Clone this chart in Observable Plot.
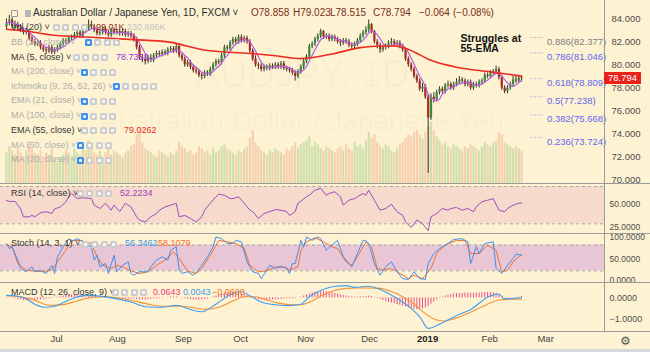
<!DOCTYPE html>
<html><head><meta charset="utf-8">
<script src="https://cdn.jsdelivr.net/npm/d3@7"></script>
<script src="https://cdn.jsdelivr.net/npm/@observablehq/plot@0.6"></script>
<style>
html,body{margin:0;padding:0;background:#fdf3d3;}
#chart{position:relative;width:650px;height:352px;overflow:hidden;background:#fdf3d3;font-family:"Liberation Sans",Arial,sans-serif;}
.p{position:absolute;left:0;}
.p svg{display:block;overflow:visible;}
.t{position:absolute;white-space:nowrap;line-height:1.2;}
.ic{position:absolute;width:7px;height:7px;border-radius:1.5px;}
.ic::after{content:"";position:absolute;left:2px;top:2px;width:3px;height:3px;background:rgba(255,255,255,0.9);border-radius:1px;}
.hl{position:absolute;left:0;width:650px;height:1px;background:#9b9b9b;}
</style></head>
<body><div id="chart"></div>
<script>
// ---------------- data ----------------
const closes = [83.6,83.9,83.3,83.5,83.2,83.0,82.8,82.9,82.3,82.0,
81.8,81.9,81.5,81.3,81.2,81.5,81.1,81.3,81.5,81.8,
82.1,82.0,82.3,82.4,82.6,82.8,82.5,83.2,83.1,83.5,
83.3,83.0,82.7,82.8,83.1,82.8,82.6,83.0,82.8,82.9,
82.7,82.9,82.6,82.7,82.5,82.2,81.5,80.6,80.5,80.3,
80.6,80.4,80.8,81.0,80.9,81.1,81.0,81.3,81.4,81.2,
81.6,80.8,80.5,80.0,80.2,79.8,79.5,79.4,79.1,79.0,
79.3,79.2,79.6,80.0,80.3,80.2,80.8,81.5,81.4,81.9,
82.2,82.0,82.4,82.1,82.3,82.0,81.2,80.5,80.0,79.9,
79.6,79.8,79.7,79.9,79.8,80.0,79.8,80.1,79.7,79.6,
79.5,79.3,79.0,79.4,79.8,80.3,80.7,81.6,81.8,82.2,
82.5,82.9,82.4,82.5,82.2,82.4,82.2,82.0,81.9,82.1,
82.0,81.7,81.6,81.8,82.1,82.5,82.8,83.0,83.5,82.9,
82.0,81.7,81.3,81.5,81.6,81.9,82.0,81.8,81.9,81.6,
81.3,80.5,80.0,79.6,79.0,78.6,77.9,78.1,77.2,75.4,
77.2,77.0,77.6,77.9,77.7,78.2,78.3,78.0,78.3,78.5,
78.7,78.6,78.3,78.5,78.0,78.3,78.2,78.5,78.6,79.1,
79.0,79.3,79.4,79.6,78.9,78.0,77.7,78.0,78.3,78.7,
78.6,78.86,78.794];
const opens = [83.3,83.6,83.9,83.3,83.5,83.2,83.0,82.8,82.9,82.3,
82.0,81.8,81.9,81.5,81.3,81.2,81.5,81.1,81.3,81.5,
81.8,82.1,82.0,82.3,82.4,82.6,82.8,82.5,83.2,83.1,
83.5,83.3,83.0,82.7,82.8,83.1,82.8,82.6,83.0,82.8,
82.9,82.7,82.9,82.6,82.7,82.5,82.2,81.5,80.6,80.5,
80.3,80.6,80.4,80.8,81.0,80.9,81.1,81.0,81.3,81.4,
81.2,81.6,80.8,80.5,80.0,80.2,79.8,79.5,79.4,79.1,
79.0,79.3,79.2,79.6,80.0,80.3,80.2,80.8,81.5,81.4,
81.9,82.2,82.0,82.4,82.1,82.3,82.0,81.2,80.5,80.0,
79.9,79.6,79.8,79.7,79.9,79.8,80.0,79.8,80.1,79.7,
79.6,79.5,79.3,79.0,79.4,79.8,80.3,80.7,81.6,81.8,
82.2,82.5,82.9,82.4,82.5,82.2,82.4,82.2,82.0,81.9,
82.1,82.0,81.7,81.6,81.8,82.1,82.5,82.8,83.0,83.5,
82.9,82.0,81.7,81.3,81.5,81.6,81.9,82.0,81.8,81.9,
81.6,81.3,80.5,80.0,79.6,79.0,78.6,77.9,78.1,77.2,
75.4,77.2,77.0,77.6,77.9,77.7,78.2,78.3,78.0,78.3,
78.5,78.7,78.6,78.3,78.5,78.0,78.3,78.2,78.5,78.6,
79.1,79.0,79.3,79.4,79.6,78.9,78.0,77.7,78.0,78.3,
78.7,78.6,78.858];
const highs = [84.0,84.3,84.1,83.8,83.7,83.5,83.2,83.2,83.1,82.5,
82.2,82.1,82.1,81.7,81.5,81.7,81.7,81.5,81.7,82.0,
82.3,82.3,82.5,82.6,82.8,83.0,83.0,83.4,83.4,83.9,
83.8,83.5,83.2,83.0,83.3,83.3,83.0,83.2,83.2,83.1,
83.1,83.1,83.1,82.9,82.9,82.7,82.4,81.7,80.9,80.8,
80.8,80.9,81.0,81.2,81.2,81.3,81.3,81.5,81.6,81.6,
81.8,81.7,81.0,80.7,80.4,80.4,80.0,79.8,79.6,79.3,
79.5,79.5,79.8,80.2,80.5,80.5,81.0,81.7,81.7,82.1,
82.4,82.4,82.6,82.6,82.5,82.5,82.2,81.4,80.8,80.2,
80.1,80.0,80.0,80.1,80.1,80.2,80.2,80.3,80.3,79.9,
79.8,79.7,79.5,79.6,80.0,80.5,80.9,81.8,82.0,82.4,
82.7,83.1,83.0,82.7,82.7,82.6,82.6,82.4,82.2,82.3,
82.3,82.2,81.9,82.0,82.3,82.7,83.0,83.3,83.9,83.6,
83.0,82.2,81.9,81.7,81.8,82.1,82.3,82.2,82.1,82.1,
81.8,81.5,80.7,80.2,79.8,79.2,78.8,78.4,78.3,77.4,
77.5,77.6,77.8,78.1,78.1,78.4,78.6,78.5,78.5,78.8,
79.0,78.9,78.8,78.7,78.7,78.5,78.5,78.7,78.8,79.3,
79.3,79.5,79.6,79.9,79.8,79.1,78.2,78.2,78.5,79.0,
79.0,79.1,79.023];
const lows = [83.0,83.4,83.1,83.1,83.0,82.8,82.6,82.6,82.1,81.8,
81.6,81.6,81.3,81.1,80.9,81.0,80.9,80.9,81.1,81.3,
81.6,81.8,81.8,82.1,82.2,82.4,82.3,82.3,82.8,82.9,
83.1,82.8,82.5,82.5,82.6,82.6,82.4,82.4,82.6,82.6,
82.5,82.5,82.4,82.4,82.3,82.0,81.3,80.4,80.2,80.0,
80.1,80.2,80.2,80.6,80.7,80.7,80.8,80.8,81.1,81.0,
81.0,80.6,80.3,79.8,79.8,79.6,79.3,79.2,78.9,78.7,
78.8,79.0,79.0,79.4,79.8,80.0,80.0,80.6,81.2,81.2,
81.7,81.8,81.8,81.9,81.9,81.8,81.0,80.3,79.8,79.6,
79.4,79.4,79.5,79.5,79.6,79.6,79.6,79.6,79.5,79.4,
79.3,79.1,78.6,78.8,79.2,79.6,80.1,80.5,81.4,81.6,
82.0,82.3,82.2,82.2,82.0,82.0,82.0,81.8,81.6,81.7,
81.8,81.5,81.3,81.4,81.6,81.9,82.3,82.6,82.8,82.7,
81.8,81.4,81.0,81.1,81.3,81.4,81.7,81.6,81.6,81.4,
81.1,80.3,79.8,79.4,78.8,78.4,77.7,77.6,77.0,70.6,
75.2,76.7,76.8,77.4,77.5,77.5,78.0,77.8,77.8,78.1,
78.3,78.4,78.1,78.1,77.8,77.8,78.0,78.0,78.3,78.4,
78.8,78.8,79.1,79.2,78.7,77.8,77.5,77.5,77.8,78.1,
78.4,78.4,78.515];
const volumes = [150,180,160,140,170,150,130,160,190,170,150,140,160,130,150,140,170,120,100,130,
140,160,150,130,170,150,140,190,160,210,180,150,140,160,130,150,170,140,160,150,
140,130,150,160,180,190,240,260,200,170,160,150,140,130,160,150,140,130,150,140,
160,200,180,170,150,160,140,150,180,170,150,160,140,170,150,160,180,190,170,160,
150,140,160,150,170,180,220,260,200,180,160,150,140,160,150,170,160,150,140,170,
160,180,200,170,190,200,210,230,180,200,190,170,160,180,170,160,150,170,180,160,
190,170,160,200,180,190,170,210,250,220,240,200,180,170,190,180,160,150,170,190,
200,220,240,230,250,260,240,220,250,280,300,260,230,210,190,200,180,170,190,180,
170,160,180,170,190,180,170,160,180,200,190,180,200,210,250,240,200,190,180,170,
180,170,160];
const emaBars = [0,8,16,30,45,57,71,86,95,104,115,125,132,137,142,150,159,171,182];
const emaVals = [83.1,82.9,82.6,82.4,82.2,82.0,81.25,81.0,80.8,80.55,80.95,81.5,81.65,81.65,81.35,80.4,79.8,79.4,79.03];
const fibRatios = [0.886,0.786,0.618,0.5,0.382,0.236];
const fibPrices = [82.377,81.046,78.809,77.238,75.668,73.724];
const priceTicks = [70,72,74,76,78,80,82,84];

const rsiBars = [0,1,3,5,6,8,9,10,12,14,16,17,19,21,22,23,25,27,30,31,33,35,37,38,40,42,44,46,47,49,51,53,54,56,58,60,61,63,65,67,69,70,72,74,75,77,79,80,82,84,86,87,89,91,93,95,97,99,100,102,103,106,107,109,111,113,114,116,118,119,121,123,124,126,127,128,130,132,134,136,138,140,141,143,145,147,149,150,152,154,156,157,159,161,163,165,166,168,170,172,174,176,177,179,181,182];
const rsiVals = [55,54,54,46,37.5,37.5,39,37.5,41.8,43,41,46,48,53.6,59,62.5,57,58,57,50,46.4,52,44.6,50,43,52,48,37.5,34,32,37.5,41,44.6,48,50,52,37.5,39,35.7,32,37.5,44.6,52,59,61.7,60.7,57,57,59,52,44.6,43,35.7,41,43,45.3,44.6,43,39,43,52,59,60.7,66,67.9,60.7,62.5,64.3,59,50,55.3,57,59,62.5,60.7,66,55.3,44.6,46.4,51,43,39,32,26,34,30.3,22.5,37.5,41,46.4,44.6,46.4,47.5,44.6,46.4,43,48.2,53.6,55.3,57,44.6,43,46.4,50,52,52.2];
const rsiBand = [30,70];
const rsiTicks = [50,25];

const kBars = [0,1,2,4,5,7,9,10,12,14,16,17,18,20,22,23,25,27,30,31,32,33,35,36,38,39,41,43,44,45,47,50,51,53,55,57,58,60,61,62,64,66,67,69,71,73,74,76,78,80,81,83,85,87,89,90,92,93,95,97,99,100,101,102,104,105,106,108,110,111,113,115,117,119,120,122,124,126,127,128,130,132,134,136,138,140,142,144,146,148,149,151,153,156,158,161,163,164,166,167,169,172,173,175,177,179,180,182];
const kVals = [84,72,76,45,25.6,18,29.5,18,21.6,14,33,14,52.8,76,95,87.7,95,87.7,76,45,56.5,29.5,37,14,56.5,18,33,41,14,10,18,18,29.5,45,52.8,45,68,76,21.6,14,18,10,15.6,33,52.8,76,99,95,83.7,83.7,91,87.7,41,18,14,2,21.6,33,25.6,31,25.6,14,37,37,91,76,99,91,99,95,68,80,91,52.8,45,29.5,60.5,91,90,83.7,37,10,29.5,41,18,2,0,18,2,0,37,60.5,72,83.7,93,95,87.7,37,76,60.5,83.7,87.7,25.6,14,33,48.8,59,56.3];
const dBars = [0,2,4,7,10,13,16,18,21,23,26,30,32,34,37,39,41,44,47,50,53,56,59,61,64,67,69,72,75,78,81,84,86,89,92,95,99,100,103,104,106,109,112,115,117,120,122,124,127,129,131,133,136,139,142,144,147,150,152,155,159,162,164,167,170,173,175,177,179,182];
const dVals = [80,76,37,21.6,20,18,23,41,68,91,91,83.7,52.8,33,25.6,33,29.5,20,14,18,33,45,64,48.8,20,14,25.6,56.5,91,87.7,83.7,72,33,18,20,29.5,28,21.6,29.5,68,87.7,97,87.7,76,72,41,33,52.8,87.7,76,25.6,21.6,25.6,14,2,10,2,25.6,60.5,80,91,90,60.5,60.5,80,68,18,21.6,41,58.1];
const stochBand = [20,80];
const stochTicks = [100,50,0];

const macdBars = [0,3,7,10,14,17,23,28,33,39,44,49,55,60,65,69,74,79,83,86,90,95,100,104,107,111,116,120,123,128,132,137,143,146,149,153,159,164,171,174,176,180,182];
const macdVals = [0.12,0.1,-0.05,-0.3,-0.45,-0.4,-0.05,0.12,0.08,-0.05,-0.2,-0.42,-0.45,-0.35,-0.55,-0.66,-0.3,0.15,0.3,0.1,-0.2,-0.33,-0.37,-0.3,0.05,0.35,0.55,0.58,0.5,0.55,0.4,0.05,-0.5,-0.9,-1.45,-1.25,-0.85,-0.55,0.1,0.18,-0.05,-0.02,0.004];
const signalBars = [0,5,10,15,20,25,30,35,40,45,50,55,60,65,70,75,80,84,88,92,96,100,104,108,112,116,120,124,128,132,136,140,144,148,152,155,158,162,166,170,174,178,182];
const signalVals = [0.1,0.05,-0.12,-0.35,-0.32,-0.15,0.02,0.05,-0.02,-0.15,-0.3,-0.4,-0.4,-0.45,-0.55,-0.45,-0.15,0.05,0.05,-0.1,-0.25,-0.32,-0.33,-0.15,0.15,0.35,0.45,0.47,0.47,0.45,0.3,0.05,-0.3,-0.75,-1.05,-1.1,-1.0,-0.8,-0.55,-0.3,-0.1,-0.07,-0.06];
const macdHist = [0.02,0.01,-0.02,-0.05,-0.08,-0.1,-0.12,-0.13,-0.13,-0.12,
-0.12,-0.11,-0.1,-0.08,-0.06,-0.04,-0.02,0.0,0.03,0.06,
0.09,0.11,0.13,0.14,0.14,0.13,0.12,0.11,0.1,0.08,
0.06,0.04,0.03,0.02,0.0,-0.02,-0.04,-0.05,-0.06,-0.06,
-0.06,-0.06,-0.07,-0.07,-0.07,-0.07,-0.08,-0.09,-0.1,-0.1,
-0.09,-0.07,-0.05,-0.04,-0.03,-0.02,0.0,0.02,0.04,0.05,
0.05,0.02,-0.02,-0.05,-0.07,-0.09,-0.1,-0.11,-0.11,-0.1,
-0.08,-0.05,-0.01,0.04,0.09,0.14,0.18,0.22,0.25,0.27,
0.28,0.27,0.25,0.22,0.18,0.12,0.06,0.0,-0.05,-0.09,
-0.11,-0.12,-0.12,-0.11,-0.1,-0.09,-0.08,-0.07,-0.06,-0.05,
-0.05,-0.04,-0.03,0.0,0.04,0.09,0.14,0.19,0.24,0.27,
0.29,0.3,0.3,0.29,0.27,0.24,0.21,0.18,0.15,0.12,
0.1,0.07,0.05,0.04,0.04,0.05,0.06,0.07,0.08,0.06,
0.02,-0.03,-0.08,-0.13,-0.18,-0.22,-0.25,-0.28,-0.32,-0.36,
-0.4,-0.44,-0.48,-0.52,-0.55,-0.56,-0.55,-0.52,-0.48,-0.42,
-0.3,-0.2,-0.1,-0.02,0.04,0.09,0.13,0.16,0.18,0.2,
0.21,0.22,0.22,0.22,0.22,0.22,0.23,0.24,0.25,0.26,
0.26,0.25,0.24,0.22,0.15,0.06,-0.02,-0.04,-0.03,-0.01,
0.02,0.04,0.064];
const macdTicks = [0,-1];

const monthLabels = ["Jul","Aug","Sep","Oct","Nov","Dec","2019","Feb","Mar"];
const monthBars = [17.7,39.2,62.5,82.7,105.7,128.3,148.8,170.7,190.5];

// ---------------- build ----------------
const chart = document.getElementById("chart");
const UP = "#38893a", DOWN = "#b2271f";
const candles = closes.map((c, i) => ({i, o: opens[i], h: highs[i], l: lows[i], c, v: volumes[i], hist: macdHist[i]}));
const ema = emaBars.map((i, j) => ({i, v: emaVals[j]}));
const fib = fibRatios.map((r, j) => ({r, p: fibPrices[j]}));
const rsi = rsiBars.map((i, j) => ({i, v: rsiVals[j]}));
const kLine = kBars.map((i, j) => ({i, v: kVals[j]}));
const dLine = dBars.map((i, j) => ({i, v: dVals[j]}));
const macdLine = macdBars.map((i, j) => ({i, v: macdVals[j]}));
const sigLine = signalBars.map((i, j) => ({i, v: signalVals[j]}));
const months = monthLabels.map((t, j) => ({t, i: monthBars[j]}));

const xDomain = [-2.12, 211.3];
const base = (h, mb = 0) => ({
  width: 650, height: h, marginLeft: 0, marginRight: 46, marginTop: 0, marginBottom: mb,
  style: {background: "transparent", color: "#4d4d4d", fontFamily: "Liberation Sans, Arial, sans-serif", fontSize: "9.5px", overflow: "visible"},
  x: {domain: xDomain, axis: null}
});
function place(el, top) {
  const d = document.createElement("div");
  d.className = "p"; d.style.top = top + "px";
  d.appendChild(el); chart.appendChild(d); return el;
}
function addText(x, y, txt, color, size, weight, extra) {
  const d = document.createElement("div");
  d.className = "t"; d.textContent = txt;
  Object.assign(d.style, {left: x + "px", top: (y - size * 0.62) + "px", color, fontSize: size + "px", fontWeight: weight || "normal"}, extra || {});
  chart.appendChild(d); return d;
}
function addIcons(x, y, kinds) {
  [...kinds].forEach((k, j) => {
    const d = document.createElement("div");
    d.className = "ic";
    Object.assign(d.style, {left: (x + j * 9.3) + "px", top: (y - 3.5) + "px", background: k === "b" ? "#3b8ff0" : "#cdcdcd"});
    chart.appendChild(d);
  });
}

// volume (behind)
place(Plot.plot({...base(183), y: {domain: [0, 900], axis: null}, marks: [
  Plot.ruleX(candles, {x: "i", y1: 0, y2: "v", stroke: d => d.c >= d.o ? "#a9cf8e" : "#f0b291", strokeOpacity: 0.55, strokeWidth: 2.2})
]}), 0);

// watermark (very faint)
addText(0, 76, "AUDJPY, 1D", "rgba(120,90,20,0.035)", 38, "normal", {width: "604px", textAlign: "center", left: "0px"});
addText(0, 121, "Australian Dollar / Japanese Yen", "rgba(120,90,20,0.04)", 28, "normal", {width: "604px", textAlign: "center", left: "0px"});

// main price panel
const main = place(Plot.plot({...base(183), y: {domain: [69.72, 85.59]}, marks: [
  Plot.axisY({anchor: "right", label: null, ticks: priceTicks, tickFormat: d => d.toFixed(3), tickSize: 0, tickPadding: 7}),
  Plot.ruleX(candles, {x: "i", y1: "l", y2: "h", stroke: "#333", strokeWidth: 1}),
  Plot.ruleX(candles, {x: "i", y1: "o", y2: "c", stroke: d => d.c >= d.o ? UP : DOWN, strokeWidth: 2.2}),
  Plot.lineY(candles, Plot.windowY({k: 5, anchor: "end"}, {x: "i", y: "c", stroke: "#b45ce8", strokeWidth: 1.2})),
  Plot.line(ema, {x: "i", y: "v", stroke: "#ec2b23", strokeWidth: 1.6, curve: "monotone-x"}),
  Plot.ruleY(fib, {y: "p", x1: 185.2, x2: 189.8, stroke: d => d.r === 0.886 ? "#a0a0a0" : "#9b9bf0", strokeDasharray: "1,1.5"}),
  Plot.text(fib, {x: 191.0, y: "p", dy: 4.5, text: d => `${d.r}(${d.p.toFixed(3)})`, textAnchor: "start", fill: d => d.r === 0.886 ? "#7d7d7d" : "#6666ee", fontSize: 9.5}),
  Plot.text(["Struggles at\n55-EMA"], {x: 160.4, y: 81.83, textAnchor: "start", lineAnchor: "middle", lineHeight: 1.0, fontWeight: "bold", fontSize: 10.5, fill: "#111"})
]}), 0);

// RSI panel
place(Plot.plot({...base(50), y: {domain: [19.6, 73.2]}, marks: [
  Plot.rect([rsiBand], {x1: xDomain[0], x2: xDomain[1], y1: d => d[0], y2: d => d[1], fill: "#f6dacb"}),
  Plot.ruleY(rsiBand, {stroke: "#a6a6a6", strokeDasharray: "3,3"}),
  Plot.line(rsi, {x: "i", y: "v", stroke: "#9c4cc0", strokeWidth: 1}),
  Plot.axisY({anchor: "right", label: null, ticks: rsiTicks, tickFormat: d => d.toFixed(4), tickSize: 0, tickPadding: 5, fontSize: 8.5, dy: -1})
]}), 183);

// Stoch panel
place(Plot.plot({...base(49), y: {domain: [-7, 107]}, marks: [
  Plot.rect([stochBand], {x1: xDomain[0], x2: xDomain[1], y1: d => d[0], y2: d => d[1], fill: "#e9c6d6"}),
  Plot.ruleY(stochBand, {stroke: "#a6a6a6", strokeDasharray: "3,3"}),
  Plot.line(dLine, {x: "i", y: "v", stroke: "#f2712f", strokeWidth: 1}),
  Plot.line(kLine, {x: "i", y: "v", stroke: "#3f8fee", strokeWidth: 1}),
  Plot.axisY({anchor: "right", label: null, ticks: stochTicks, tickFormat: d => d.toFixed(4), tickSize: 0, tickPadding: 5, fontSize: 8.5, dy: 1})
]}), 233);

// MACD panel + time axis
place(Plot.plot({...base(70, 21), y: {domain: [-1.6, 0.73]}, marks: [
  Plot.ruleX(candles, {x: "i", y1: 0, y2: "hist", stroke: "#ef4f8c", strokeWidth: 1}),
  Plot.line(sigLine, {x: "i", y: "v", stroke: "#f59233", strokeWidth: 1.1, curve: "monotone-x"}),
  Plot.line(macdLine, {x: "i", y: "v", stroke: "#3ea0ee", strokeWidth: 1.1, curve: "monotone-x"}),
  Plot.axisY({anchor: "right", label: null, ticks: macdTicks, tickFormat: d => d.toFixed(4).replace("-", "\u2212"), tickSize: 0, tickPadding: 5, fontSize: 9}),
  Plot.text(months.filter(d => d.t !== "2019"), {x: "i", text: "t", frameAnchor: "bottom", dy: 10, fill: "#444", fontSize: 9.5}),
  Plot.text(months.filter(d => d.t === "2019"), {x: "i", text: "t", frameAnchor: "bottom", dy: 10, fill: "#222", fontSize: 9.5, fontWeight: "bold"})
]}), 282);

// separators and axis border
[183, 233, 282, 331].forEach(y => { const d = document.createElement("div"); d.className = "hl"; d.style.top = y + "px"; chart.appendChild(d); });
(() => { const d = document.createElement("div"); Object.assign(d.style, {position: "absolute", left: "604px", top: "0px", width: "1px", height: "331px", background: "#9b9b9b"}); chart.appendChild(d); })();
(() => { const d = document.createElement("div"); Object.assign(d.style, {position: "absolute", left: "0px", top: "349px", width: "650px", height: "3px", background: "#d5d9de"}); chart.appendChild(d); })();
addText(620, 341, "\u2699", "#555", 12);

// current price tag from the main y scale
(() => {
  const y = main.scale("y").apply(closes[closes.length - 1]);
  const d = document.createElement("div");
  Object.assign(d.style, {position: "absolute", left: "604px", top: (y - 6) + "px", width: "37px", height: "12px", background: "#e8221b", color: "#fff", fontSize: "9.5px", lineHeight: "12px", textAlign: "center"});
  d.textContent = closes[closes.length - 1].toFixed(3);
  chart.appendChild(d);
})();

// legends
(() => {
  const a = document.createElement("div");
  Object.assign(a.style, {position: "absolute", left: "11px", top: "9.5px", width: "5px", height: "5px", border: "1px solid #999", borderRadius: "1px"});
  chart.appendChild(a);
  const b = document.createElement("div");
  Object.assign(b.style, {position: "absolute", left: "25px", top: "10px", width: "6px", height: "7px", background: "#b5b5b5"});
  chart.appendChild(b);
})();
addText(33, 13.3, "Australian Dollar / Japanese Yen, 1D, FXCM \u02c5", "#2b2b2b", 10);
[[251, "O78.858"], [293, "H79.023"], [330, "L78.515"], [373, "C78.794"], [419, "\u22120.064"], [453, "(\u22120.08%)"]]
  .forEach(([x, t]) => addText(x, 13.3, t, "#7c2b22", 10));

const legendRows = [
  {y: 27.3, label: "Vol (20) \u02c5", c: "#333", ix: 53, icons: "gggg", vals: [[96, "99.01K", "#8a2f22"], [127, "230.886K", "#c4c4c4"]]},
  {y: 42.7, label: "BB (20, close) \u02c5", c: "#adadad", ix: 85, icons: "bggg"},
  {y: 57.3, label: "MA (5, close) \u02c5", c: "#333", ix: 73, icons: "gggg", vals: [[116, "78.7352", "#9b30e0"]]},
  {y: 72, label: "MA (200, close) \u02c5", c: "#adadad", ix: 81, icons: "bggg"},
  {y: 86.7, label: "Ichimoku (9, 26, 52, 26) \u02c5", c: "#adadad", ix: 113, icons: "bgggg"},
  {y: 101, label: "EMA (21, close) \u02c5", c: "#adadad", ix: 81, icons: "bggg"},
  {y: 116, label: "MA (100, close) \u02c5", c: "#adadad", ix: 81, icons: "bggg"},
  {y: 130.7, label: "EMA (55, close) \u02c5", c: "#333", ix: 81, icons: "gggg", vals: [[124, "79.0262", "#ee2b24"]]},
  {y: 145.3, label: "MA (50, close) \u02c5", c: "#adadad", ix: 77, icons: "bggg"},
  {y: 160, label: "MA (20, close) \u02c5", c: "#adadad", ix: 77, icons: "bggg"},
  {y: 193.7, label: "RSI (14, close) \u02c5", c: "#333", ix: 77, icons: "gggg", vals: [[120, "52.2234", "#9c3fc0"]]},
  {y: 244, label: "Stoch (14, 3, 1) \u02c5", c: "#333", ix: 82, icons: "gggg", vals: [[125, "56.3462", "#3d94f0"], [158, "58.1079", "#f5712e"]]},
  {y: 292.3, label: "MACD (12, 26, close, 9) \u02c5", c: "#333", ix: 112, icons: "gggg", vals: [[153, "0.0643", "#ef3b7d"], [183, "0.0043", "#3aa0f0"], [212, "\u22120.0600", "#f57c20"]]}
];
legendRows.forEach(r => {
  addText(11, r.y, r.label, r.c, 9);
  addIcons(r.ix, r.y, r.icons);
  (r.vals || []).forEach(([x, t, c]) => addText(x, r.y, t, c, 9));
});
</script>
</body></html>
